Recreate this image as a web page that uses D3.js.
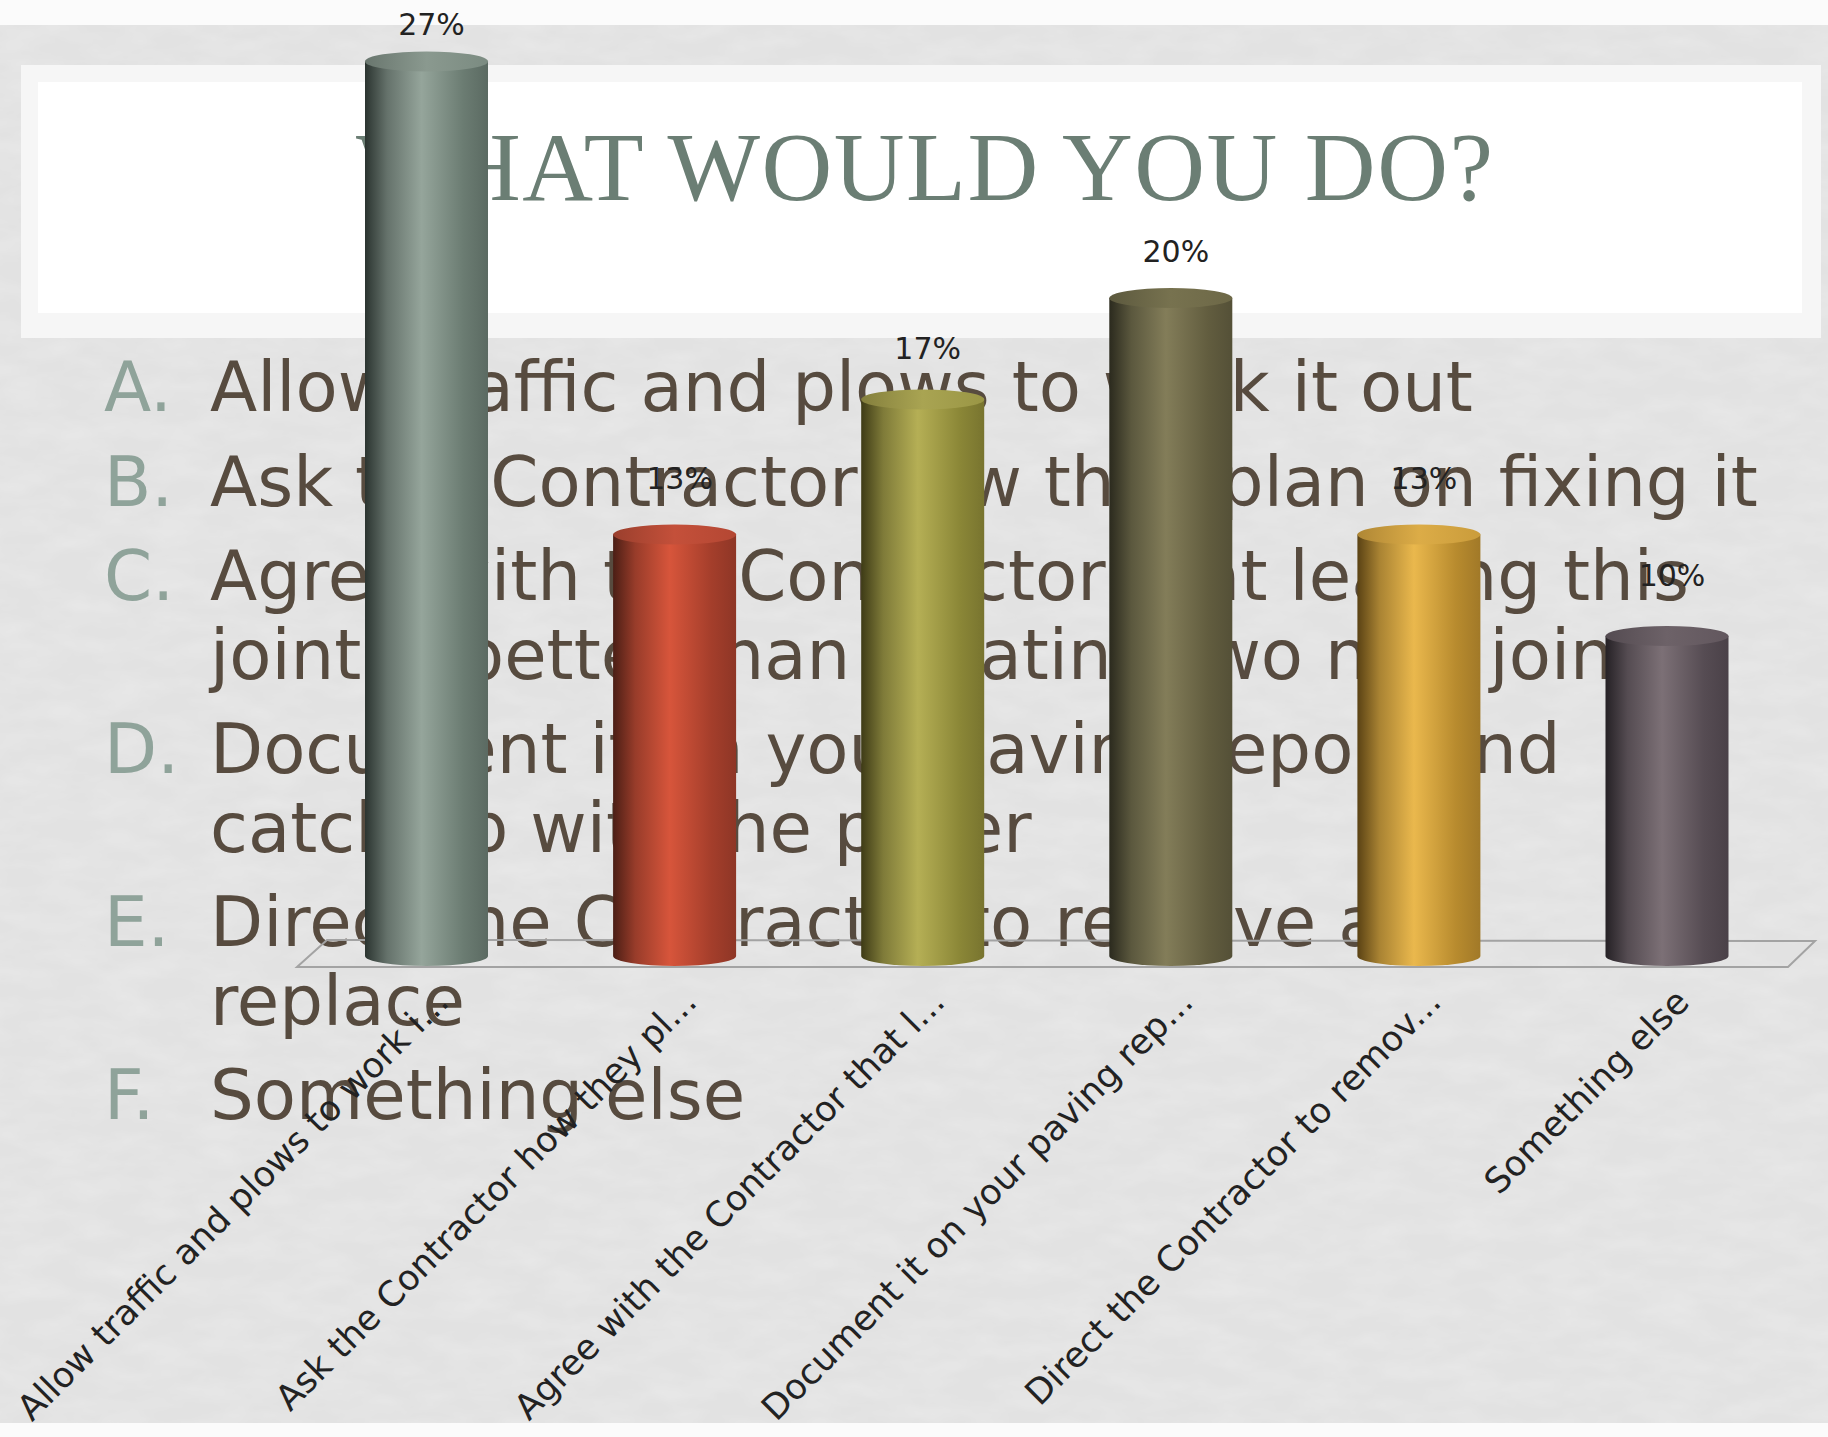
<!DOCTYPE html>
<html>
<head>
<meta charset="utf-8">
<script src="https://cdn.jsdelivr.net/npm/d3@7"></script>
<style>
  html, body { margin: 0; padding: 0; background: #fbfbfb; }
  svg { display: block; }
</style>
</head>
<body>
<svg id="slide" width="1828" height="1437"></svg>
<script>
// ---- data ----
const categories = [
  "Allow traffic and plows to work i...",
  "Ask the Contractor how they pl...",
  "Agree with the Contractor that l...",
  "Document it on your paving rep...",
  "Direct the Contractor to remov...",
  "Something else"
];
const values = [27, 13, 17, 20, 13, 10];
const valueLabels = values.map(v => v + "%");

const optionLetters = ["A.", "B.", "C.", "D.", "E.", "F."];
const optionLines = [
  ["Allow traffic and plows to work it out"],
  ["Ask the Contractor how they plan on fixing it"],
  ["Agree with the Contractor that leaving this", "joint is better than creating two new joints"],
  ["Document it on your paving report and", "catch up with the paver"],
  ["Direct the Contractor to remove and", "replace"],
  ["Something else"]
];
const titleText = "WHAT WOULD YOU DO?";

// column shading: [shadow edge, highlight, far edge, top cap]
const palette = [
  ["#2b3430", "#95a59b", "#6b7c72", "#8a998f"],
  ["#4b1e15", "#d7553b", "#a43e2b", "#c4503a"],
  ["#3e3b16", "#b5af55", "#8b8737", "#a9a452"],
  ["#2b2a1e", "#837d59", "#625d3f", "#77724f"],
  ["#5a4214", "#eab84d", "#b88b2e", "#dcac47"],
  ["#252125", "#7c7076", "#564c53", "#6d6268"]
];

const svg = d3.select("#slide");
const defs = svg.append("defs");

// ---- slide background ----
const paper = defs.append("filter").attr("id", "paper")
  .attr("x", 0).attr("y", 0).attr("width", 1).attr("height", 1);
paper.append("feTurbulence").attr("type", "fractalNoise")
  .attr("baseFrequency", "0.02 0.05").attr("numOctaves", 3).attr("seed", 7);
paper.append("feColorMatrix").attr("type", "matrix")
  .attr("values", "0 0 0 0 1  0 0 0 0 1  0 0 0 0 1  0.35 0 0 0 -0.12");

svg.append("rect").attr("x", 0).attr("y", 0).attr("width", 1828).attr("height", 1437).attr("fill", "#fbfbfb");
svg.append("rect").attr("x", 0).attr("y", 25).attr("width", 1828).attr("height", 1398).attr("fill", "#e2e2e2");
svg.append("rect").attr("x", 0).attr("y", 25).attr("width", 1828).attr("height", 1398)
  .attr("filter", "url(#paper)");

// title panel
svg.append("rect").attr("x", 21).attr("y", 65).attr("width", 1800).attr("height", 273).attr("fill", "#f6f6f6");
svg.append("rect").attr("x", 38).attr("y", 82).attr("width", 1764).attr("height", 231).attr("fill", "#ffffff");

svg.append("text")
  .attr("x", 356).attr("y", 200)
  .attr("font-family", "'Liberation Serif', 'DejaVu Serif', serif")
  .attr("font-size", 98)
  .attr("letter-spacing", 1.5)
  .attr("fill", "#6b7e74")
  .text(titleText);

// ---- option list ----
const listFont = "'DejaVu Sans', 'Noto Sans', sans-serif";
const lineStep = 78.5, itemGap = 16, firstBaseline = 411;
let lineIndex = 0;
const listRows = [];
optionLines.forEach((lines, i) => {
  lines.forEach((txt, j) => {
    listRows.push({ item: i, first: j === 0, text: txt, baseline: firstBaseline + lineIndex * lineStep + i * itemGap });
    lineIndex++;
  });
});

const list = svg.append("g").attr("font-family", listFont).attr("font-size", 69);
list.selectAll("text.letter")
  .data(listRows.filter(r => r.first))
  .join("text")
  .attr("class", "letter")
  .attr("x", 104).attr("y", r => r.baseline)
  .attr("fill", "#8fa39a")
  .text(r => optionLetters[r.item]);
list.selectAll("text.line")
  .data(listRows)
  .join("text")
  .attr("class", "line")
  .attr("x", 210).attr("y", r => r.baseline)
  .attr("fill", "#574b3f")
  .text(r => r.text);

// ---- chart ----
const x = d3.scalePoint().domain(categories).range([426.5, 1667]);
const y = d3.scaleLinear().domain([0, 27]).range([974, 61.4]);
// data labels sit slightly closer to the taller columns (perspective)
const yLabel = d3.scaleLinear().domain([0, 27]).range([910, 35]);

const colW = 123, rx = colW / 2, ry = 10;
const floorY = 956;

// floor
svg.append("path")
  .attr("d", "M327,940 L1815,941 L1788,967 L297,967 Z")
  .attr("fill", "none")
  .attr("stroke", "#a3a3a3")
  .attr("stroke-width", 2);

// gradients
palette.forEach((c, i) => {
  const g = defs.append("linearGradient").attr("id", "col" + i)
    .attr("x1", 0).attr("x2", 1).attr("y1", 0).attr("y2", 0);
  g.append("stop").attr("offset", "0%").attr("stop-color", c[0]);
  g.append("stop").attr("offset", "18%").attr("stop-color", d3.interpolateRgb(c[0], c[1])(0.55));
  g.append("stop").attr("offset", "46%").attr("stop-color", c[1]);
  g.append("stop").attr("offset", "80%").attr("stop-color", c[2]);
  g.append("stop").attr("offset", "100%").attr("stop-color", d3.interpolateRgb(c[2], c[0])(0.25));
  const t = defs.append("linearGradient").attr("id", "cap" + i)
    .attr("x1", 0).attr("x2", 1).attr("y1", 0).attr("y2", 0);
  t.append("stop").attr("offset", "0%").attr("stop-color", d3.interpolateRgb(c[3], c[0])(0.35));
  t.append("stop").attr("offset", "50%").attr("stop-color", c[3]);
  t.append("stop").attr("offset", "100%").attr("stop-color", d3.interpolateRgb(c[3], c[2])(0.5));
});

const cols = svg.append("g").selectAll("g.col")
  .data(values.map((v, i) => ({ v, i, cat: categories[i] })))
  .join("g").attr("class", "col");

cols.append("path")
  .attr("d", d => {
    const cx = x(d.cat), top = y(d.v);
    const l = cx - rx, r = cx + rx;
    return `M${l},${top} L${l},${floorY} A${rx},${ry} 0 0 0 ${r},${floorY} L${r},${top} Z`;
  })
  .attr("fill", d => `url(#col${d.i})`);

cols.append("ellipse")
  .attr("cx", d => x(d.cat))
  .attr("cy", d => y(d.v))
  .attr("rx", rx).attr("ry", ry)
  .attr("fill", d => `url(#cap${d.i})`);

// value labels
svg.append("g").selectAll("text")
  .data(values.map((v, i) => ({ v, i, cat: categories[i] })))
  .join("text")
  .attr("x", d => x(d.cat) + 5)
  .attr("y", d => yLabel(d.v))
  .attr("text-anchor", "middle")
  .attr("font-family", listFont)
  .attr("font-size", 30)
  .attr("fill", "#222222")
  .text(d => valueLabels[d.i]);

// category labels
svg.append("g").selectAll("text")
  .data(categories)
  .join("text")
  .attr("transform", d => `translate(${x(d) + 24},1004) rotate(-45)`)
  .attr("text-anchor", "end")
  .attr("font-family", listFont)
  .attr("font-size", 35)
  .attr("fill", "#222222")
  .text(d => d);
</script>
</body>
</html>
